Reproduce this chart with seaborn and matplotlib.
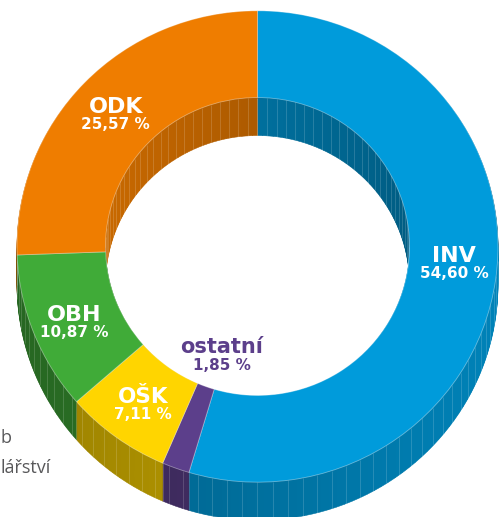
import numpy as np
import matplotlib
matplotlib.use("Agg")
import matplotlib.pyplot as plt
import seaborn as sns
from matplotlib.colors import to_rgb

# data
labels = ["INV", "ostatní", "OŠK", "OBH", "ODK"]
shares = [54.60, 1.85, 7.11, 10.87, 25.57]
share_labels = ["54,60 %", "1,85 %", "7,11 %", "10,87 %", "25,57 %"]
colors = ["#009bdb", "#5c3f8b", "#ffd500", "#40ab38", "#ef7d00"]
text_colors = ["white", "#5c3f8b", "white", "white", "white"]

# layout in pixels (from top-left of the picture)
W, H = 503, 517
SQ = 0.98                      # vertical squash of the ring
CX, CY = 257.5, 246.5
R_OUT, R_IN = 240.5, 152
DEPTH = 38
name_pos = [(454, 262), (221.5, 353), (143, 403), (74.5, 321), (116, 113)]
pct_pos = [(454, 278), (222, 370), (142.5, 419), (74, 337), (115, 129)]
name_size = [16, 15, 15.5, 16, 16]


def to_data(px, py):
    return px, (H - py) / SQ


sns.set_theme(style="white")
plt.rcParams["font.family"] = ["DejaVu Sans"]

fig = plt.figure(figsize=(W / 100, H / 100), dpi=100)
ax = fig.add_axes([0, 0, 1, 1])

cx, cy = to_data(CX, CY)
depth = DEPTH / SQ

# side walls: each slice split into small pieces, shaded by facing direction
piece_vals, piece_cols = [], []
start = 90.0
for share, col in zip(shares, colors):
    ext = share * 3.6
    n = max(1, int(np.ceil(ext / 2.0)))
    for j in range(n):
        mid = start - ext * (j + 0.5) / n
        normal = mid if np.sin(np.radians(mid)) < 0 else mid + 180
        m = 0.72 + 0.12 * np.cos(np.radians(normal))
        piece_vals.append(share / n)
        piece_cols.append(tuple(np.array(to_rgb(col)) * m))
    start -= ext

for d in np.arange(depth, 0, -1.0):
    wedges, _ = ax.pie(piece_vals, colors=piece_cols, startangle=90,
                       counterclock=False, radius=R_OUT, center=(cx, cy - d),
                       wedgeprops=dict(width=R_OUT - R_IN, linewidth=0.4))
    for w in wedges:
        w.set_edgecolor(w.get_facecolor())

# thin light stripes on the walls
angles = list(90 - 3.6 * np.arange(100))
bounds = 90 - 3.6 * np.cumsum([0] + shares[:-1])
angles = np.radians(np.concatenate([angles, bounds]))
sin, cos = np.sin(angles), np.cos(angles)
out = sin < 0
xs = np.where(out, cx + R_OUT * cos, cx + R_IN * cos)
ys = np.where(out, cy + R_OUT * sin, cy + R_IN * sin)
ax.vlines(xs, ys - depth, ys, colors="white", alpha=0.18, linewidth=0.6, zorder=2)

# top face
ax.pie(shares, colors=colors, startangle=90, counterclock=False,
       radius=R_OUT, center=(cx, cy),
       wedgeprops=dict(width=R_OUT - R_IN, linewidth=0.6,
                       edgecolor=(1, 1, 1, 0.4), zorder=3))

for i in range(len(labels)):
    x, y = to_data(*name_pos[i])
    ax.text(x, y, labels[i], ha="center", va="baseline", fontsize=name_size[i],
            fontweight="bold", color=text_colors[i], zorder=5)
    x, y = to_data(*pct_pos[i])
    ax.text(x, y, share_labels[i], ha="center", va="baseline", fontsize=11,
            fontweight="bold", color=text_colors[i], zorder=5)

# cut-off text at the left edge
x, y = to_data(1, 443)
ax.text(x, y, "b", ha="left", va="baseline", fontsize=13,
        family="Open Sans", color="#58585a")
x, y = to_data(0, 473)
ax.text(x, y, "lářství", ha="left", va="baseline", fontsize=13,
        family="Open Sans", color="#58585a")

ax.set_aspect("auto")
ax.set_xlim(0, W)
ax.set_ylim(0, H / SQ)
ax.axis("off")

fig.savefig("out.png", dpi=100)
